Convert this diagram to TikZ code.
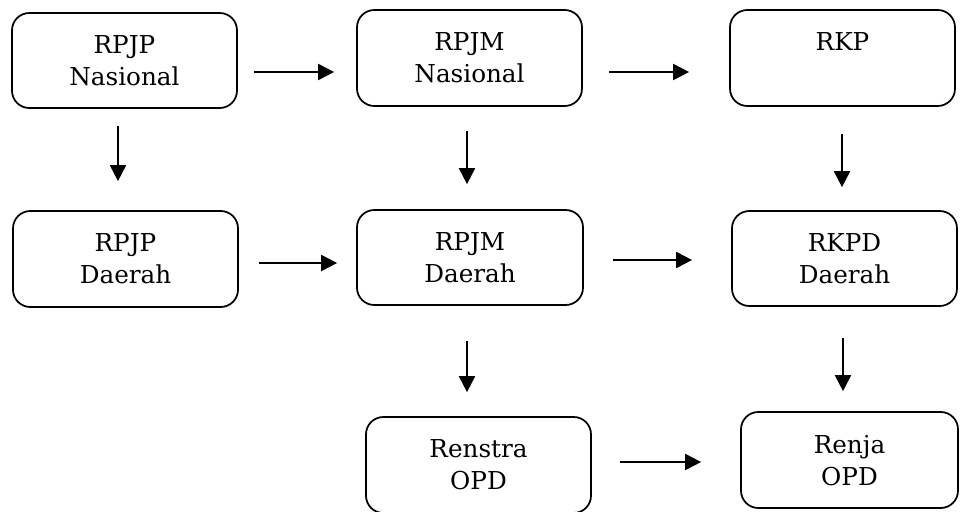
\documentclass[tikz,border=0pt]{standalone}
\usepackage{fontspec}
\setmainfont{DejaVu Serif}
\usetikzlibrary{arrows.meta}
\tikzset{
  box/.style={draw, line width=1.3pt, rounded corners=13pt, align=center,
    inner sep=0pt, font=\fontsize{18.5}{24}\selectfont, text depth=0pt},
  arr/.style={line width=1.5pt, -{Triangle[length=12pt,width=12pt]}}
}
\begin{document}
\begin{tikzpicture}[x=0.75pt,y=-0.75pt]
\useasboundingbox (0,0) rectangle (961,511);
\node[box, minimum width=168.75pt, minimum height=71.25pt] (A) at (124.5,60.5) {RPJP\\Nasional};
\node[box, minimum width=168.75pt, minimum height=72pt] (B) at (469.5,58) {RPJM\\Nasional};
\node[box, minimum width=168.75pt, minimum height=72pt] (C) at (842.5,58) {RKP\\\mbox{}};
\node[box, minimum width=168.75pt, minimum height=72pt] (D) at (125.5,259) {RPJP\\Daerah};
\node[box, minimum width=169.5pt, minimum height=71.25pt] (E) at (470,257.5) {RPJM\\Daerah};
\node[box, minimum width=168.75pt, minimum height=71.25pt] (F) at (844.5,258.5) {RKPD\\Daerah};
\node[box, minimum width=168.75pt, minimum height=72pt] (G) at (478.5,465) {Renstra\\OPD};
\node[box, minimum width=162.75pt, minimum height=72pt] (H) at (849.5,460) {Renja\\OPD};
\draw[arr, shorten <=12pt, shorten >=16.5pt] (A.east |- 0,72) -- (B.west |- 0,72);
\draw[arr, shorten <=19.5pt, shorten >=30pt] (B.east |- 0,72) -- (C.west |- 0,72);
\draw[arr, shorten <=12.75pt, shorten >=21.75pt] (A.south -| 118,0) -- (D.north -| 118,0);
\draw[arr, shorten <=18pt, shorten >=18.75pt] (B.south -| 467,0) -- (E.north -| 467,0);
\draw[arr, shorten <=20.25pt, shorten >=17.25pt] (C.south -| 842,0) -- (F.north -| 842,0);
\draw[arr, shorten <=15pt, shorten >=14.25pt] (D.east |- 0,263) -- (E.west |- 0,263);
\draw[arr, shorten <=21.75pt, shorten >=29.25pt] (E.east |- 0,260) -- (F.west |- 0,260);
\draw[arr, shorten <=26.25pt, shorten >=18pt] (E.south -| 467,0) -- (G.north -| 467,0);
\draw[arr, shorten <=23.25pt, shorten >=15pt] (F.south -| 843,0) -- (H.north -| 843,0);
\draw[arr, shorten <=21pt, shorten >=29.25pt] (G.east |- 0,462) -- (H.west |- 0,462);
\end{tikzpicture}
\end{document}
